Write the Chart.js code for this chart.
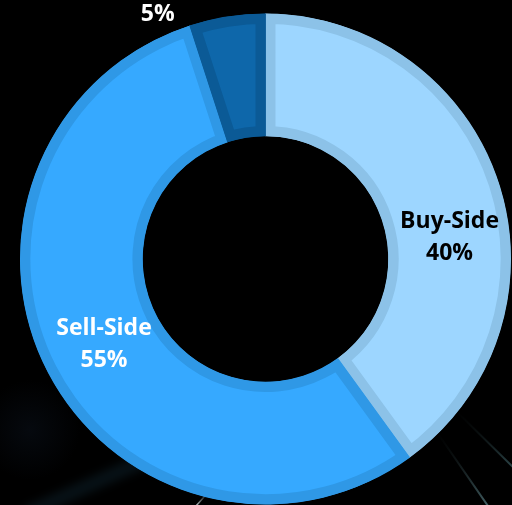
<!DOCTYPE html>
<html>
<head>
<meta charset="utf-8">
<script src="https://cdn.jsdelivr.net/npm/chart.js@4"></script>
<style>
  html, body { margin: 0; padding: 0; background: #000; overflow: hidden; }
</style>
</head>
<body>
<canvas id="shareChart" width="512" height="505"></canvas>
<script>
// Market share split
const segments = ["Buy-Side", "Sell-Side", ""];
const shares = [40, 55, 5];
const fills = ["#9dd6ff", "#36a9ff", "#0e67aa"];
const edges = ["#8cc2e8", "#2f98e6", "#0b5a96"];
const labelColors = ["#000000", "#ffffff", "#ffffff"];
// label anchor per slice: [fraction along the arc, fraction across the ring]
const labelSpots = [[0.578, 0.51], [0.495, 0.49], [-0.32, 1.18]];

// Faint light streaks behind the ring
const backdrop = {
  id: "backdrop",
  beforeDraw(chart) {
    const ctx = chart.ctx;
    ctx.save();
    ctx.fillStyle = "#000";
    ctx.fillRect(0, 0, chart.width, chart.height);

    let glow = ctx.createRadialGradient(30, 430, 0, 30, 430, 50);
    glow.addColorStop(0, "rgba(12, 20, 32, 0.45)");
    glow.addColorStop(1, "rgba(12, 20, 32, 0)");
    ctx.fillStyle = glow;
    ctx.fillRect(0, 370, 100, 120);

    ctx.lineCap = "round";
    ctx.filter = "blur(4px)";
    ctx.strokeStyle = "rgba(20, 48, 62, 0.35)";
    ctx.lineWidth = 14;
    ctx.beginPath();
    ctx.moveTo(30, 512);
    ctx.lineTo(150, 458);
    ctx.stroke();
    ctx.filter = "none";

    function ray(x1, y1, x2, y2, color, w) {
      const g = ctx.createLinearGradient(x1, y1, x2, y2);
      g.addColorStop(0, "rgba(0,0,0,0)");
      g.addColorStop(1, color);
      ctx.strokeStyle = g;
      ctx.lineWidth = w;
      ctx.beginPath();
      ctx.moveTo(x1, y1);
      ctx.lineTo(x2, y2);
      ctx.stroke();
    }
    ray(450, 405, 514, 468, "rgba(130, 205, 215, 0.35)", 2);
    ray(432, 425, 488, 506, "rgba(150, 215, 225, 0.45)", 2);
    ray(212, 488, 196, 506, "rgba(220, 235, 240, 0.85)", 1.5);
    ctx.restore();
  }
};

// Name and percentage written on each slice
const sliceLabels = {
  id: "sliceLabels",
  afterDatasetsDraw(chart) {
    const ctx = chart.ctx;
    const arcs = chart.getDatasetMeta(0).data;
    ctx.save();
    ctx.font = "bold 23px 'Open Sans'";
    ctx.textAlign = "center";
    ctx.textBaseline = "middle";
    arcs.forEach((arc, i) => {
      const p = arc.getProps(["x", "y", "startAngle", "endAngle", "innerRadius", "outerRadius"], true);
      const [along, across] = labelSpots[i];
      const a = p.startAngle + (p.endAngle - p.startAngle) * along;
      const r = p.innerRadius + (p.outerRadius - p.innerRadius) * across;
      const cx = p.x + Math.cos(a) * r;
      const cy = p.y + Math.sin(a) * r;
      const lines = segments[i] ? [segments[i], shares[i] + "%"] : [shares[i] + "%"];
      const lh = 32;
      ctx.fillStyle = labelColors[i];
      lines.forEach((t, k) => {
        ctx.fillText(t, cx, cy + (k - (lines.length - 1) / 2) * lh);
      });
    });
    ctx.restore();
  }
};

const ctx = document.getElementById("shareChart").getContext("2d");
new Chart(ctx, {
  type: "doughnut",
  data: {
    labels: segments,
    datasets: [{
      data: shares,
      backgroundColor: fills,
      borderColor: edges,
      borderWidth: 10,
      borderAlign: "inner",
      borderJoinStyle: "miter",
      hoverOffset: 0
    }]
  },
  options: {
    responsive: false,
    animation: false,
    radius: 245.5,
    cutout: "50%",
    layout: { padding: { left: 19, top: 13, right: 0, bottom: 0 } },
    plugins: {
      legend: { display: false },
      tooltip: { enabled: false }
    }
  },
  plugins: [backdrop, sliceLabels]
});
</script>
</body>
</html>
